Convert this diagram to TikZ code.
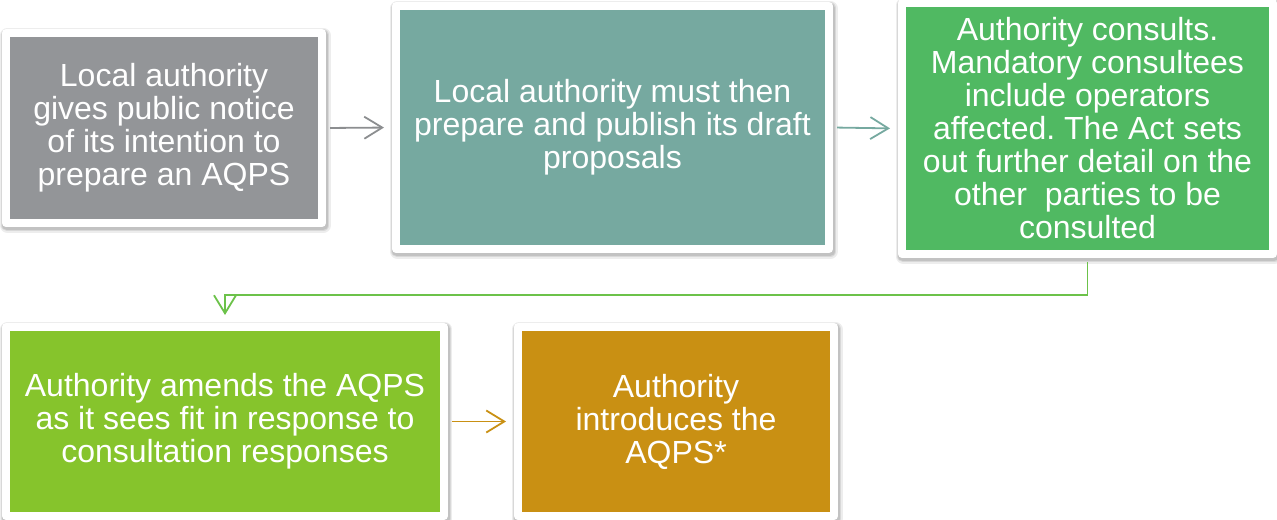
\documentclass[tikz,border=0pt]{standalone}
\usepackage{fontspec}
\setmainfont{Liberation Sans}
\usetikzlibrary{arrows.meta}
\usepackage{xcolor}
\frenchspacing

\definecolor{noticegrey}{HTML}{939598}
\definecolor{draftteal}{HTML}{76A9A0}
\definecolor{consultgreen}{HTML}{50B962}
\definecolor{amendlime}{HTML}{86C42C}
\definecolor{introorange}{HTML}{C99013}
\definecolor{linkgreen}{HTML}{6CC24A}

\tikzset{
  softshadow/.style 2 args={preaction={draw=black, opacity=#1, line width=#2,
    transform canvas={xshift=0.6pt, yshift=-1.2pt}}},
  stepbox/.style={draw=white, line width=4pt, line join=round, fill=#1,
    text=white, align=center, inner sep=0pt,
    font=\fontsize{16}{16.5}\selectfont,
    softshadow={0.07}{7.5pt}, softshadow={0.09}{6pt}, softshadow={0.10}{5pt}},
  flow/.style={line width=0.9pt, -{Straight Barb[length=9pt,width=11pt]},
    shorten <=2pt, shorten >=4pt}
}

\begin{document}
\begin{tikzpicture}[x=0.5pt,y=-0.5pt]

        \useasboundingbox (0,0) rectangle (1277,519);

        % Top row
        \node[stepbox=noticegrey, minimum width=158pt, minimum height=95pt] (notice) at (164,128)
          {Local authority\\gives public notice\\of its intention to\\prepare an AQPS};
        \node[stepbox=draftteal, minimum width=216.5pt, minimum height=121.5pt] (draft) at (612.5,127.5)
          {Local authority must then\\prepare and publish its draft\\proposals};
        \node[stepbox=consultgreen, minimum width=185.5pt, minimum height=125.5pt] (consult) at (1087.5,128.5)
          {Authority consults.\\Mandatory consultees\\include operators\\affected. The Act sets\\out further detail on the\\other\ \ parties to be\\consulted};

        % Bottom row
        \node[stepbox=amendlime, minimum width=218.75pt, minimum height=94.5pt] (amend) at (225,421.5)
          {Authority amends the AQPS\\as it sees fit in response to\\consultation responses};
        \node[stepbox=introorange, minimum width=158pt, minimum height=94.5pt] (introduce) at (676,421.5)
          {Authority\\introduces the\\AQPS*};

        % Arrows
        \draw[flow, noticegrey!95!black] (notice.east) -- (draft.west);
        \draw[flow, draftteal] (draft.east) -- (consult.west);
        \draw[flow, linkgreen] (consult.south) -- ++(0,37) -| (amend.north);
        \draw[flow, introorange] (amend.east) -- (introduce.west);

    \end{tikzpicture}
\end{document}
